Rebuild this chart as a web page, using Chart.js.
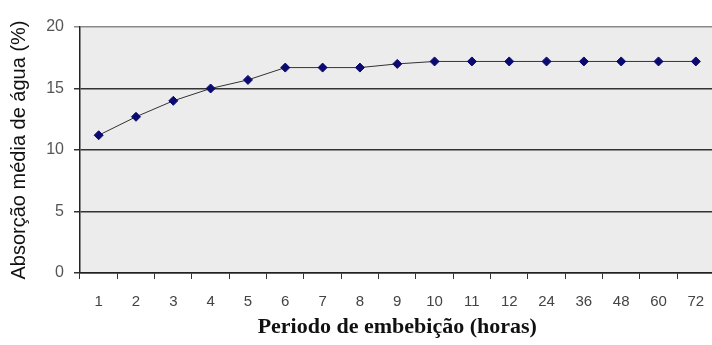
<!DOCTYPE html>
<html>
<head>
<meta charset="utf-8">
<script src="https://cdn.jsdelivr.net/npm/chart.js@4.4.0/dist/chart.umd.min.js"></script>
<style>
  html, body { margin: 0; padding: 0; background: #fff; overflow: hidden; }
  #wrap { width: 720px; height: 345px; }
</style>
</head>
<body>
<div id="wrap"><canvas id="myChart" width="720" height="345"></canvas></div>
<script>
const labels = ["1", "2", "3", "4", "5", "6", "7", "8", "9", "10", "11", "12", "24", "36", "48", "60", "72"];
const absorcao = [11.2, 12.7, 14.0, 15.0, 15.7, 16.7, 16.7, 16.7, 17.0, 17.2, 17.2, 17.2, 17.2, 17.2, 17.2, 17.2, 17.2];
const yTicks = [0, 5, 10, 15, 20];

// fundo cinza da area do grafico
const plotBg = {
  id: "plotBg",
  beforeDraw(chart) {
    const { ctx, chartArea: a } = chart;
    ctx.save();
    ctx.fillStyle = "#ececec";
    ctx.fillRect(a.left, a.top, a.right - a.left, a.bottom - a.top);
    ctx.restore();
  },
};

const data = {
  labels: labels,
  datasets: [
    {
      data: absorcao,
      borderColor: "#333333",
      borderWidth: 1,
      tension: 0,
      pointStyle: "rectRot",
      pointRadius: 4.5,
      pointBackgroundColor: "#0a0a70",
      pointBorderColor: "#0a0a70",
      pointBorderWidth: 1,
    },
  ],
};

const options = {
  responsive: false,
  animation: false,
  layout: { padding: { top: 27, right: 3, left: 0, bottom: 0 } },
  plugins: {
    legend: { display: false },
    tooltip: { enabled: false },
  },
  scales: {
    x: {
      offset: true,
      grid: {
        offset: true,
        drawOnChartArea: false,
        tickLength: 6,
        color: "#333",
      },
      border: { color: "#222", width: 1.5 },
      ticks: {
        color: "#444",
        font: { family: "Liberation Sans, Arial", size: 15 },
        padding: 14,
        maxRotation: 0,
        autoSkip: false,
      },
      title: {
        display: true,
        text: "Periodo de embebição (horas)",
        color: "#111",
        font: { family: "Liberation Serif, Times New Roman", size: 22, weight: "bold" },
        padding: { top: 0 },
      },
      afterFit(scale) { scale.height = 72; },
    },
    y: {
      min: 0,
      max: 20,
      afterBuildTicks(scale) { scale.ticks = yTicks.map(v => ({ value: v })); },
      grid: {
        color: ctx => (ctx.tick && ctx.tick.value === 20 ? "#8a8a8a" : "#333"),
        lineWidth: 1.5,
        tickLength: 6,
      },
      border: { color: "#222", width: 1.5 },
      ticks: {
        color: "#555",
        font: { family: "Liberation Sans, Arial", size: 16 },
        padding: 10,
      },
      title: {
        display: true,
        text: "Absorção média de água (%)",
        color: "#111",
        font: { family: "Liberation Sans, Arial", size: 20 },
        padding: { top: 7, bottom: 0 },
      },
      afterFit(scale) { scale.width = 80; },
    },
  },
};

const config = {
  type: "line",
  data: data,
  options,
  plugins: [plotBg],
};

const myChart = new Chart(document.getElementById("myChart"), config);
</script>
</body>
</html>
